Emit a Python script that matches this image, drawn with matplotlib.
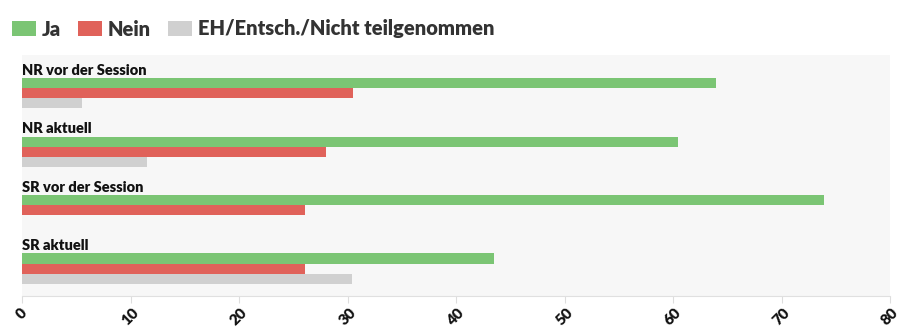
import matplotlib.pyplot as plt
from matplotlib.patches import Patch

# Anteile in Prozent (NR: 200 Sitze, SR: 46 Sitze)
categories = ['NR vor der Session', 'NR aktuell', 'SR vor der Session', 'SR aktuell']
ja = [64.0, 60.5, 73.9, 43.5]
nein = [30.5, 28.0, 26.1, 26.1]
eh = [5.5, 11.5, 0.0, 30.4]
series_names = ['Ja', 'Nein', 'EH/Entsch./Nicht teilgenommen']
colors = ['#7bc574', '#e0625a', '#d0d0d0']
x_ticks = [0, 10, 20, 30, 40, 50, 60, 70, 80]

plt.rcParams['font.family'] = ['Lato', 'DejaVu Sans']

fig = plt.figure(figsize=(9.1, 3.34), dpi=100)
ax = fig.add_axes([22 / 910, 1 - 296 / 334, 868 / 910, 241 / 334])
ax.set_facecolor('#f7f7f7')

pitch = 5.85
first_top = 2.3
bar_h = 1.0
for i, cat in enumerate(categories):
    top = first_top + pitch * i
    for j, vals in enumerate([ja, nein, eh]):
        ax.barh(top + bar_h * (j + 0.5), vals[i], height=bar_h,
                color=colors[j], edgecolor='none', zorder=2)
    ax.text(0, top - 0.12, cat, fontsize=10.5, fontweight='heavy',
            color='#111111', va='bottom', ha='left', zorder=3)

ax.set_ylim(24.1, 0)
ax.set_xlim(0, 80)
ax.set_yticks([])
ax.set_xticks(x_ticks)
ax.set_xticklabels([str(t) for t in x_ticks], rotation=45, ha='center',
                   fontsize=11, fontweight='heavy', color='#111111')
ax.tick_params(axis='x', length=5, color='#dddddd', pad=2)
for side in ['top', 'right', 'left']:
    ax.spines[side].set_visible(False)
ax.spines['bottom'].set_color('#e0e0e0')

handles = [Patch(facecolor=c, edgecolor='none', label=n)
           for c, n in zip(colors, series_names)]
leg = fig.legend(handles=handles, loc='center left',
                 bbox_to_anchor=(8 / 910, 1 - 29 / 334), ncol=3, frameon=False,
                 prop={'size': 14.5, 'weight': 'heavy'}, handlelength=1.2,
                 handleheight=0.72, handletextpad=0.28, columnspacing=0.85,
                 borderaxespad=0, borderpad=0.2)
for t in leg.get_texts():
    t.set_color('#333333')

fig.savefig('out.png', dpi=100)
